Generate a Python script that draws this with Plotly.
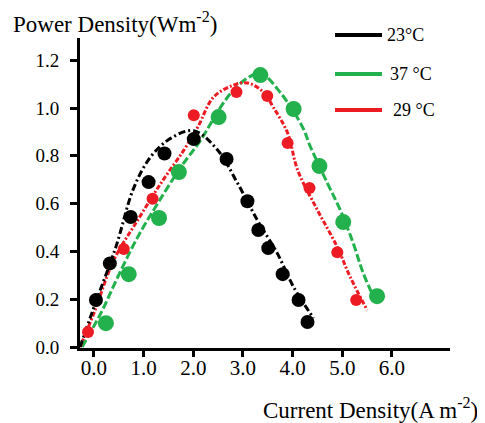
import plotly.graph_objects as go

# ---- data ----
black_x = [0.04, 0.32, 0.74, 1.10, 1.42, 2.01, 2.67, 3.09, 3.31, 3.51, 3.80, 4.12, 4.30]
black_y = [0.197, 0.35, 0.544, 0.69, 0.81, 0.87, 0.787, 0.61, 0.49, 0.414, 0.305, 0.197, 0.105]

red_x = [-0.12, 0.60, 1.18, 2.01, 2.87, 3.49, 3.90, 4.34, 4.90, 5.28]
red_y = [0.063, 0.41, 0.62, 0.97, 1.067, 1.05, 0.854, 0.665, 0.397, 0.197]

green_x = [0.24, 0.70, 1.31, 1.71, 2.51, 3.35, 4.02, 4.54, 5.02, 5.70]
green_y = [0.10, 0.305, 0.54, 0.732, 0.962, 1.138, 0.996, 0.757, 0.523, 0.213]

# fitted (dashed) curves
black_fit_x = [-0.28, 0.00, 0.44, 0.80, 1.14, 1.55, 2.01, 2.49, 2.89, 3.29, 3.69, 4.02, 4.42]
black_fit_y = [0.0, 0.167, 0.418, 0.665, 0.795, 0.874, 0.905, 0.824, 0.686, 0.531, 0.393, 0.251, 0.121]

red_fit_x = [-0.28, 0.00, 0.40, 0.88, 1.35, 1.81, 2.09, 2.41, 2.81, 3.09, 3.41, 3.61, 3.90, 4.10, 4.50, 4.90, 5.16, 5.50]
red_fit_y = [0.0, 0.142, 0.364, 0.531, 0.686, 0.824, 0.92, 1.046, 1.096, 1.105, 1.067, 1.004, 0.895, 0.741, 0.573, 0.418, 0.293, 0.155]

green_fit_x = [-0.24, 0.14, 0.48, 0.88, 1.29, 1.75, 2.15, 2.55, 2.81, 3.09, 3.35, 3.76, 4.20, 4.36, 4.70, 4.96, 5.22, 5.42, 5.66]
green_fit_y = [0.0, 0.142, 0.293, 0.46, 0.603, 0.753, 0.866, 1.004, 1.075, 1.125, 1.146, 1.063, 0.92, 0.837, 0.686, 0.573, 0.435, 0.31, 0.197]

x_tick_vals = [0, 1, 2, 3, 4, 5, 6]
x_tick_text = ["0.0", "1.0", "2.0", "3.0", "4.0", "5.0", "6.0"]
y_tick_vals = [0.0, 0.2, 0.4, 0.6, 0.8, 1.0, 1.2]
y_tick_text = ["0.0", "0.2", "0.4", "0.6", "0.8", "1.0", "1.2"]

legend_labels = ["23\u00b0C", "37 \u00b0C", "29 \u00b0C"]

BLACK = "#000000"
GREEN = "#22b14c"
RED = "#ed1c24"
FONT = "Liberation Serif"

fig = go.Figure()

# dashed fit lines
fig.add_trace(go.Scatter(x=green_fit_x, y=green_fit_y, mode="lines", line_shape="spline",
                         line=dict(color=GREEN, width=3, dash="8px,3px"), hoverinfo="skip"))
fig.add_trace(go.Scatter(x=red_fit_x, y=red_fit_y, mode="lines", line_shape="spline",
                         line=dict(color=RED, width=3, dash="5px,2px,2px,2px"), hoverinfo="skip"))
fig.add_trace(go.Scatter(x=black_fit_x, y=black_fit_y, mode="lines", line_shape="spline",
                         line=dict(color=BLACK, width=3, dash="7px,3px,2px,3px"), hoverinfo="skip"))

# data points
fig.add_trace(go.Scatter(x=green_x, y=green_y, mode="markers",
                         marker=dict(color=GREEN, size=16, line=dict(width=0))))
fig.add_trace(go.Scatter(x=red_x, y=red_y, mode="markers",
                         marker=dict(color=RED, size=12, line=dict(width=0))))
fig.add_trace(go.Scatter(x=black_x, y=black_y, mode="markers",
                         marker=dict(color=BLACK, size=14, line=dict(width=0))))

# the page body has an 8px margin; compensate so the picture lands like the reference
OFF = 8
W, H = 485 - OFF, 423 - OFF
# plot area in (reference) pixels
L, R, T, B = 80, 450, 38, 348


def px2paper_x(px):
    return (px - L) / (R - L)


def px2paper_y(py):
    return (B - py) / (B - T)


# custom legend
legend_colors = [BLACK, GREEN, RED]
legend_y_px = [35, 74, 110]
legend_text_x_px = [385, 388, 391]
for lab, col, ypx, txp in zip(legend_labels, legend_colors, legend_y_px, legend_text_x_px):
    fig.add_shape(type="line", xref="paper", yref="paper",
                  x0=px2paper_x(335), x1=px2paper_x(382),
                  y0=px2paper_y(ypx), y1=px2paper_y(ypx),
                  line=dict(color=col, width=4))
    fig.add_annotation(xref="paper", yref="paper", x=px2paper_x(txp), y=px2paper_y(ypx),
                       text=lab, showarrow=False, xanchor="left", yanchor="middle",
                       font=dict(family=FONT, size=18, color="black"))

# axis titles as annotations
fig.add_annotation(xref="paper", yref="paper", x=px2paper_x(11), y=px2paper_y(22),
                   text="Power Density(Wm<sup>-2</sup>)", showarrow=False,
                   xanchor="left", yanchor="middle",
                   font=dict(family=FONT, size=23, color="black"))
fig.add_annotation(xref="paper", yref="paper", x=px2paper_x(261), y=px2paper_y(408),
                   text="Current Density(A m<sup>-2</sup>)", showarrow=False,
                   xanchor="left", yanchor="middle",
                   font=dict(family=FONT, size=23, color="black"))

fig.update_layout(
    width=W, height=H,
    margin=dict(l=L - OFF, r=485 - R, t=T - OFF, b=423 - B, pad=0),
    paper_bgcolor="white", plot_bgcolor="white",
    showlegend=False,
    font=dict(family=FONT, size=18, color="black"),
    xaxis=dict(range=[-0.281, 7.169], tickvals=x_tick_vals, ticktext=x_tick_text,
               showgrid=False, zeroline=False, showline=True, linecolor="black", linewidth=3,
               ticks="outside", ticklen=6, tickwidth=3, tickcolor="black",
               ticklabelstandoff=-7,
               tickfont=dict(family=FONT, size=21), fixedrange=True),
    yaxis=dict(range=[-0.004, 1.293], tickvals=y_tick_vals, ticktext=y_tick_text,
               showgrid=False, zeroline=False, showline=True, linecolor="black", linewidth=3,
               ticks="outside", ticklen=7, tickwidth=3, tickcolor="black",
               ticklabelstandoff=7,
               tickfont=dict(family=FONT, size=19), fixedrange=True),
)

fig.write_html("out.html")
